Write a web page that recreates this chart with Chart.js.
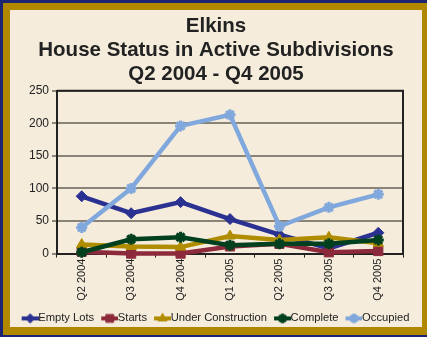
<!DOCTYPE html>
<html>
<head>
<meta charset="utf-8">
<script src="https://cdn.jsdelivr.net/npm/chart.js@4.4.1/dist/chart.umd.min.js"></script>
<style>
    body { margin: 0; background: #1c2472; width: 427px; height: 337px; overflow: hidden; position: relative; }
    #frame {
        position: absolute; left: 3px; top: 3px;
        width: 412px; height: 317px;
        border-style: solid; border-color: #b08800;
        border-width: 7px 5px 8px 7px;
        background: #f5ecdc;
    }
    #frame canvas { display: block; }
</style>
</head>
<body>
<div id="frame"><canvas id="chart" width="412" height="317"></canvas></div>
<script>
const quarters = ['Q2 2004', 'Q3 2004', 'Q4 2004', 'Q1 2005', 'Q2 2005', 'Q3 2005', 'Q4 2005'];
const emptyLots = [88, 62, 79, 53, 29, 8, 32];
const starts = [3, 0, 0, 11, 15, 2, 4];
const underConstruction = [14, 11, 10, 27, 21, 25, 16];
const complete = [2, 22, 25, 13, 15, 15, 21];
const occupied = [40, 100, 196, 213, 42, 71, 91];

const yTicks = [0, 50, 100, 150, 200, 250];

const FONT = 'Liberation Sans, Arial, sans-serif';
const INK = '#222222';

// line + marker swatch for the legend; drawn in the right 17px of a 22px canvas
// so it sits flush against the label text
function legendIcon(color, style, radius, borderWidth) {
    const c = document.createElement('canvas');
    c.width = 22;
    c.height = 12;
    const ctx = c.getContext('2d');
    ctx.strokeStyle = color;
    ctx.fillStyle = color;
    ctx.lineWidth = 4;
    ctx.beginPath();
    ctx.moveTo(5, 6);
    ctx.lineTo(22, 6);
    ctx.stroke();
    ctx.lineWidth = borderWidth;
    Chart.helpers.drawPoint(ctx, {pointStyle: style, radius, rotation: 0, borderWidth}, 13.5, 6);
    return c;
}

const series = [
    {label: 'Empty Lots', data: emptyLots, color: '#2a3190', style: 'rectRot', r: 5.5, bw: 1, order: 4},
    {label: 'Starts', data: starts, color: '#8c2a3c', style: 'rect', r: 6.5, bw: 1, order: 3},
    {label: 'Under Construction', data: underConstruction, color: '#b08c00', style: 'triangle', r: 6, bw: 1, order: 2},
    {label: 'Complete', data: complete, color: '#00401f', style: 'star', r: 5.5, bw: 3, order: 1},
    {label: 'Occupied', data: occupied, color: '#80a8dc', style: 'star', r: 5.5, bw: 3, order: 0}
];

const plotFrame = {
    id: 'plotFrame',
    afterLayout(chart) {
        // nudge the legend row a little closer to the bottom edge
        chart.legend.top += 3;
        chart.legend.bottom += 3;
    },
    afterDatasetsDraw(chart) {
        const {ctx, chartArea: a} = chart;
        ctx.save();
        ctx.strokeStyle = INK;
        ctx.lineWidth = 2;
        ctx.beginPath();
        ctx.moveTo(a.left, a.top);
        ctx.lineTo(a.right, a.top);
        ctx.lineTo(a.right, a.bottom);
        ctx.stroke();
        ctx.restore();
    }
};

new Chart(document.getElementById('chart'), {
    type: 'line',
    data: {
        labels: quarters,
        datasets: series.map(s => ({
            label: s.label,
            data: s.data,
            borderColor: s.color,
            backgroundColor: s.color,
            borderWidth: 4.5,
            tension: 0,
            pointStyle: s.style,
            pointRadius: s.r,
            pointBorderWidth: s.bw,
            pointBackgroundColor: s.color,
            pointBorderColor: s.color,
            order: s.order,
            clip: false,
            legendIcon: legendIcon(s.color, s.style, s.r * 0.85, s.bw)
        }))
    },
    options: {
        responsive: false,
        animation: false,
        layout: {padding: {left: 0, right: 0, top: 5, bottom: -4}},
        scales: {
            x: {
                offset: true,
                grid: {display: true, drawOnChartArea: false, offset: true, tickLength: 4, tickColor: INK, tickWidth: 1},
                border: {color: INK, width: 2},
                ticks: {color: INK, font: {family: FONT, size: 11}, minRotation: 90, maxRotation: 90, padding: 1}
            },
            y: {
                min: 0,
                max: 250,
                afterBuildTicks: axis => { axis.ticks = yTicks.map(v => ({value: v})); },
                afterFit: axis => { axis.width = 47; },
                grid: {color: '#8a8478', lineWidth: 2, tickLength: 5, tickColor: INK, tickWidth: 1},
                border: {color: INK, width: 2},
                ticks: {color: INK, font: {family: FONT, size: 12}, padding: 3}
            },
            // empty strip on the right of the plot
            gutter: {
                axis: 'y',
                position: 'right',
                display: true,
                grid: {display: false},
                border: {display: false},
                ticks: {display: false},
                afterFit: axis => { axis.width = 19; }
            }
        },
        plugins: {
            title: {
                display: true,
                text: ['Elkins', 'House Status in Active Subdivisions', 'Q2 2004 - Q4 2005'],
                color: INK,
                font: {family: FONT, size: 20.5, weight: 'bold', lineHeight: 1.15},
                padding: {top: 0, bottom: 5}
            },
            legend: {
                position: 'bottom',
                labels: {
                    usePointStyle: true,
                    pointStyleWidth: 10,
                    boxHeight: 11,
                    padding: 8,
                    color: INK,
                    font: {family: FONT, size: 11.2},
                    generateLabels: chart => chart.data.datasets.map((ds, i) => ({
                        text: ds.label,
                        pointStyle: ds.legendIcon,
                        fontColor: INK,
                        lineWidth: 0,
                        datasetIndex: i
                    }))
                }
            },
            tooltip: {enabled: false}
        }
    },
    plugins: [plotFrame]
});
</script>
</body>
</html>
